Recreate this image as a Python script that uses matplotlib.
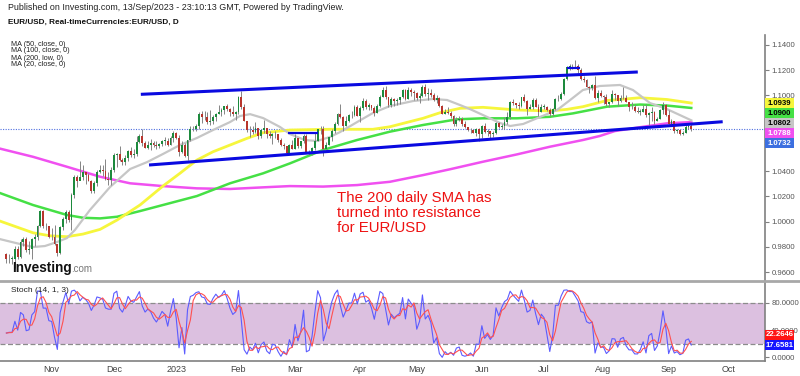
#!/usr/bin/env python3
# EUR/USD daily chart with MAs, channel drawing and stochastic panel

import numpy as np
import pandas as pd
import matplotlib
matplotlib.use('Agg')
import matplotlib.pyplot as plt
from matplotlib.lines import Line2D
from matplotlib.patches import Rectangle

plt.rcParams['font.family'] = ['Liberation Sans', 'DejaVu Sans']

# ---- daily candles, 10 Oct 2022 .. 13 Sep 2023 (open = previous close) ----
dates = pd.bdate_range('2022-10-10', '2023-09-13')
first_open = 0.9740
closes = [
    # Oct
    0.9700, 0.9705, 0.9705, 0.9780, 0.9720, 0.9840, 0.9860, 0.9775, 0.9780, 0.9860, 0.9875, 0.9965, 1.0080, 0.9965, 0.9965, 0.9880,
    # Nov
    0.9875, 0.9820, 0.9750, 0.9960, 1.0020, 1.0075, 1.0010, 1.0210, 1.0355, 1.0325, 1.0350, 1.0390, 1.0365, 1.0325, 1.0245, 1.0305, 1.0395, 1.0410, 1.0400, 1.0340, 1.0330, 1.0405,
    # Dec
    1.0525, 1.0535, 1.0490, 1.0470, 1.0505, 1.0555, 1.0530, 1.0535, 1.0630, 1.0680, 1.0625, 1.0585, 1.0605, 1.0620, 1.0605, 1.0595, 1.0615, 1.0640, 1.0640, 1.0610, 1.0660, 1.0705,
    # Jan
    1.0665, 1.0550, 1.0605, 1.0520, 1.0645, 1.0730, 1.0735, 1.0760, 1.0850, 1.0830, 1.0825, 1.0790, 1.0795, 1.0830, 1.0855, 1.0870, 1.0885, 1.0915, 1.0890, 1.0870, 1.0850, 1.0865,
    # Feb
    1.0990, 1.0910, 1.0795, 1.0725, 1.0725, 1.0710, 1.0745, 1.0680, 1.0725, 1.0740, 1.0690, 1.0675, 1.0695, 1.0690, 1.0650, 1.0605, 1.0595, 1.0545, 1.0605, 1.0575,
    # Mar
    1.0665, 1.0600, 1.0635, 1.0680, 1.0550, 1.0545, 1.0585, 1.0640, 1.0730, 1.0730, 1.0575, 1.0610, 1.0670, 1.0715, 1.0770, 1.0855, 1.0830, 1.0760, 1.0800, 1.0845, 1.0845, 1.0905, 1.0840,
    # Apr
    1.0900, 1.0955, 1.0905, 1.0920, 1.0900, 1.0860, 1.0915, 1.0990, 1.1045, 1.0990, 1.0925, 1.0970, 1.0955, 1.0965, 1.0990, 1.1045, 1.0970, 1.1040, 1.1025, 1.1020,
    # May
    1.0975, 1.0995, 1.1065, 1.1010, 1.1020, 1.1005, 1.0960, 1.0980, 1.0915, 1.0850, 1.0870, 1.0860, 1.0840, 1.0770, 1.0805, 1.0810, 1.0770, 1.0750, 1.0725, 1.0725, 1.0705, 1.0735, 1.0690,
    # Jun
    1.0760, 1.0710, 1.0715, 1.0690, 1.0700, 1.0780, 1.0750, 1.0755, 1.0790, 1.0830, 1.0945, 1.0940, 1.0925, 1.0915, 1.0985, 1.0955, 1.0895, 1.0905, 1.0960, 1.0910, 1.0865, 1.0910,
    # Jul
    1.0910, 1.0880, 1.0850, 1.0890, 1.0970, 1.0970, 1.1010, 1.1130, 1.1225, 1.1230, 1.1235, 1.1230, 1.1200, 1.1130, 1.1125, 1.1065, 1.1055, 1.1085, 1.0975, 1.1015, 1.0995,
    # Aug
    1.0985, 1.0935, 1.0945, 1.1010, 1.1000, 1.0955, 1.0975, 1.0980, 1.0950, 1.0905, 1.0905, 1.0875, 1.0870, 1.0870, 1.0895, 1.0845, 1.0860, 1.0870, 1.0795, 1.0815, 1.0880, 1.0925, 1.0845,
    # Sep
    1.0775, 1.0795, 1.0720, 1.0725, 1.0695, 1.0700, 1.0750, 1.0755, 1.0732,
]
highs = [
    0.9750, 0.9740, 0.9730, 0.9808, 0.9810, 0.9860, 0.9876, 0.9875, 0.9845, 0.9870, 0.9900, 0.9975, 1.0094, 1.0090, 0.9990, 0.9965,
    0.9950, 0.9975, 0.9820, 0.9965, 1.0035, 1.0095, 1.0095, 1.0225, 1.0365, 1.0365, 1.0480, 1.0450, 1.0395, 1.0385, 1.0330, 1.0320, 1.0405, 1.0450, 1.0450, 1.0495, 1.0395, 1.0430,
    1.0545, 1.0545, 1.0595, 1.0505, 1.0530, 1.0565, 1.0590, 1.0575, 1.0675, 1.0695, 1.0735, 1.0640, 1.0635, 1.0655, 1.0640, 1.0640, 1.0625, 1.0645, 1.0670, 1.0665, 1.0675, 1.0715,
    1.0710, 1.0685, 1.0635, 1.0625, 1.0650, 1.0760, 1.0760, 1.0775, 1.0865, 1.0875, 1.0875, 1.0865, 1.0885, 1.0845, 1.0860, 1.0925, 1.0900, 1.0915, 1.0930, 1.0900, 1.0915, 1.0875,
    1.0995, 1.1033, 1.0935, 1.0800, 1.0755, 1.0755, 1.0790, 1.0745, 1.0735, 1.0805, 1.0745, 1.0715, 1.0700, 1.0720, 1.0695, 1.0665, 1.0625, 1.0590, 1.0615, 1.0645,
    1.0690, 1.0665, 1.0640, 1.0695, 1.0695, 1.0565, 1.0590, 1.0700, 1.0735, 1.0760, 1.0760, 1.0630, 1.0670, 1.0730, 1.0790, 1.0860, 1.0930, 1.0840, 1.0835, 1.0850, 1.0875, 1.0925, 1.0925,
    1.0915, 1.0975, 1.0970, 1.0940, 1.0925, 1.0915, 1.0935, 1.1000, 1.1065, 1.1075, 1.0990, 1.0985, 1.0980, 1.0975, 1.0990, 1.1050, 1.1050, 1.1065, 1.1060, 1.1045,
    1.1025, 1.1015, 1.1080, 1.1092, 1.1055, 1.1050, 1.1020, 1.1000, 1.0985, 1.0925, 1.0895, 1.0905, 1.0875, 1.0845, 1.0830, 1.0835, 1.0825, 1.0800, 1.0750, 1.0745, 1.0735, 1.0745, 1.0740,
    1.0765, 1.0780, 1.0735, 1.0715, 1.0715, 1.0785, 1.0785, 1.0775, 1.0825, 1.0865, 1.0955, 1.0970, 1.0940, 1.0950, 1.0990, 1.1012, 1.0960, 1.0935, 1.0975, 1.0975, 1.0935, 1.0935,
    1.0935, 1.0915, 1.0900, 1.0900, 1.0975, 1.1000, 1.1030, 1.1135, 1.1230, 1.1245, 1.1250, 1.1276, 1.1245, 1.1215, 1.1150, 1.1130, 1.1070, 1.1090, 1.1150, 1.1045, 1.1045,
    1.1005, 1.1010, 1.0950, 1.1045, 1.1015, 1.1000, 1.1000, 1.1065, 1.1000, 1.0945, 1.0950, 1.0935, 1.0905, 1.0895, 1.0925, 1.0930, 1.0870, 1.0905, 1.0875, 1.0830, 1.0895, 1.0945, 1.0930,
    1.0880, 1.0810, 1.0795, 1.0735, 1.0735, 1.0720, 1.0765, 1.0770, 1.0775,
]
lows = [
    0.9670, 0.9670, 0.9665, 0.9632, 0.9705, 0.9715, 0.9810, 0.9760, 0.9745, 0.9705, 0.9810, 0.9855, 0.9960, 0.9950, 0.9930, 0.9870,
    0.9850, 0.9815, 0.9730, 0.9745, 0.9935, 0.9990, 0.9995, 0.9935, 1.0190, 1.0270, 1.0330, 1.0330, 1.0300, 1.0325, 1.0225, 1.0225, 1.0285, 1.0385, 1.0360, 1.0330, 1.0290, 1.0290,
    1.0390, 1.0430, 1.0480, 1.0445, 1.0445, 1.0480, 1.0515, 1.0505, 1.0520, 1.0620, 1.0595, 1.0580, 1.0575, 1.0570, 1.0590, 1.0575, 1.0580, 1.0600, 1.0610, 1.0600, 1.0605, 1.0630,
    1.0655, 1.0520, 1.0545, 1.0510, 1.0485, 1.0640, 1.0715, 1.0715, 1.0735, 1.0780, 1.0805, 1.0770, 1.0765, 1.0775, 1.0800, 1.0855, 1.0835, 1.0855, 1.0875, 1.0835, 1.0835, 1.0805,
    1.0855, 1.0895, 1.0795, 1.0710, 1.0670, 1.0690, 1.0700, 1.0655, 1.0665, 1.0705, 1.0660, 1.0660, 1.0615, 1.0665, 1.0630, 1.0600, 1.0575, 1.0535, 1.0535, 1.0575,
    1.0575, 1.0580, 1.0585, 1.0620, 1.0545, 1.0525, 1.0525, 1.0570, 1.0635, 1.0690, 1.0516, 1.0550, 1.0610, 1.0635, 1.0705, 1.0765, 1.0820, 1.0715, 1.0760, 1.0785, 1.0820, 1.0835, 1.0835,
    1.0790, 1.0885, 1.0895, 1.0880, 1.0880, 1.0835, 1.0860, 1.0910, 1.0990, 1.0970, 1.0910, 1.0905, 1.0915, 1.0925, 1.0935, 1.0975, 1.0965, 1.0970, 1.0995, 1.0965,
    1.0965, 1.0940, 1.0985, 1.0995, 1.0965, 1.0990, 1.0955, 1.0940, 1.0905, 1.0850, 1.0850, 1.0850, 1.0820, 1.0760, 1.0760, 1.0800, 1.0760, 1.0745, 1.0715, 1.0705, 1.0700, 1.0675, 1.0635,
    1.0665, 1.0705, 1.0675, 1.0665, 1.0670, 1.0690, 1.0740, 1.0730, 1.0735, 1.0770, 1.0815, 1.0925, 1.0900, 1.0895, 1.0905, 1.0945, 1.0845, 1.0890, 1.0890, 1.0905, 1.0835, 1.0865,
    1.0890, 1.0875, 1.0835, 1.0835, 1.0880, 1.0955, 1.0965, 1.1000, 1.1125, 1.1200, 1.1205, 1.1215, 1.1180, 1.1125, 1.1105, 1.1065, 1.1020, 1.1040, 1.0970, 1.0945, 1.0990,
    1.0935, 1.0915, 1.0910, 1.0940, 1.0965, 1.0915, 1.0945, 1.0970, 1.0945, 1.0875, 1.0895, 1.0865, 1.0860, 1.0845, 1.0870, 1.0830, 1.0765, 1.0800, 1.0770, 1.0795, 1.0810, 1.0855, 1.0835,
    1.0770, 1.0765, 1.0705, 1.0705, 1.0685, 1.0685, 1.0700, 1.0735, 1.0715,
]
# 13 sessions before the first candle, only needed for the 14-bar stochastic window
pre_highs = [0.9975, 0.9905, 0.9855, 0.9710, 0.9670, 0.9750, 0.9815, 0.9855, 0.9850, 0.9999, 0.9995, 0.9890, 0.9800]
pre_lows = [0.9810, 0.9810, 0.9670, 0.9550, 0.9570, 0.9535, 0.9635, 0.9745, 0.9750, 0.9820, 0.9835, 0.9785, 0.9725]

# ---- moving averages (bar index, price) ----
ma20_x = [-2.3, 4.8, 9.4, 13.6, 17.9, 21.4, 24.2, 29.5, 36.6, 43.7, 49.7, 55.3, 61.3, 67.3, 73.0, 79.0,
          82.5, 86.1, 90.7, 96.7, 100.2, 105.5, 109.8, 114.3, 117.9, 123.9, 129.5, 135.5, 143.7, 150.7,
          155.7, 160.3, 163.8, 168.4, 174.4, 178.0, 182.6, 188.5, 194.6, 199.2, 203.7, 209.7, 216.8,
          221.4, 227.4, 233.4, 242]
ma20_y = [0.9861, 0.9822, 0.9798, 0.9806, 0.9838, 0.9869, 0.9933, 1.0091, 1.0273, 1.0416, 1.0471, 1.0535,
          1.0606, 1.0662, 1.0725, 1.0788, 1.0836, 1.0851, 1.0820, 1.0749, 1.0693, 1.0646, 1.0638, 1.0670,
          1.0709, 1.0788, 1.0860, 1.0915, 1.0955, 1.0971, 1.0963, 1.0923, 1.0891, 1.0844, 1.0781, 1.0757,
          1.0773, 1.0828, 1.0884, 1.0963, 1.1042, 1.1074, 1.1082, 1.1042, 1.0939, 1.0891, 1.0802]
ma50_x = [-2.3, 9.4, 15.4, 21.4, 27.1, 33.1, 39.1, 47.2, 55.3, 61.3, 67.3, 73.0, 79.0, 85.0, 90.7, 100.2,
          114.3, 129.5, 135.5, 147.2, 153.2, 160.3, 168.4, 180.4, 192.1, 198.1, 203.7, 212.2, 223.9, 233.4, 242]
ma50_y = [1.0004, 0.9911, 0.9887, 0.9880, 0.9901, 0.9938, 1.0012, 1.0131, 1.0281, 1.0382, 1.0487, 1.0553,
          1.0606, 1.0659, 1.0704, 1.0725, 1.0731, 1.0731, 1.0751, 1.0818, 1.0862, 1.0897, 1.0905, 1.0884,
          1.0876, 1.0889, 1.0910, 1.0959, 1.0981, 1.0967, 1.0939]
ma100_x = [-2.3, 9.4, 21.4, 27.1, 33.1, 39.1, 47.2, 55.3, 67.3, 79.0, 90.7, 100.2, 111.9, 123.9, 135.5,
           147.2, 159.2, 168.4, 180.4, 192.1, 200.2, 212.2, 223.9, 233.4, 242]
ma100_y = [1.0226, 1.0131, 1.0052, 1.0030, 1.0025, 1.0038, 1.0083, 1.0131, 1.0202, 1.0303, 1.0382, 1.0461,
           1.0567, 1.0646, 1.0712, 1.0765, 1.0810, 1.0818, 1.0818, 1.0830, 1.0857, 1.0910, 1.0927, 1.0919, 1.0900]
ma200_x = [-2.3, 9.4, 21.4, 33.1, 43.7, 55.3, 67.3, 79.0, 90.7, 100.2, 111.9, 123.9, 135.5, 147.2, 156.7,
           168.4, 180.4, 192.1, 203.7, 209.7, 215.0, 225.0, 233.4, 242]
ma200_y = [1.0578, 1.0513, 1.0434, 1.0355, 1.0303, 1.0281, 1.0263, 1.0258, 1.0271, 1.0281, 1.0277, 1.0289,
           1.0315, 1.0368, 1.0414, 1.0474, 1.0532, 1.0593, 1.0646, 1.0678, 1.0717, 1.0751, 1.0778, 1.0788]

# ---- hand drawn lines on the chart (bar index, price) ----
channel_top_x, channel_top_y = [47.5, 223.1], [1.1008, 1.1185]
channel_bot_x, channel_bot_y = [50.4, 253.1], [1.0448, 1.0791]
mar_range_x, mar_range_y = [99.6, 110.1], [1.0705, 1.0705]
jul_range_x, jul_range_y = [198.0, 202.7], [1.1214, 1.1214]

stoch_last_k = 17.6581
stoch_last_d = 22.2646

month_labels = ['Nov', 'Dec', '2023', 'Feb', 'Mar', 'Apr', 'May', 'Jun', 'Jul', 'Aug', 'Sep', 'Oct']
price_ticks = [0.96, 0.98, 1.00, 1.02, 1.04, 1.06, 1.08, 1.10, 1.12, 1.14]
stoch_ticks = [0, 40, 80]

W, H = 800, 376
UP, DOWN = '#1d8a3d', '#b8352d'
YELLOW, GREEN, GRAY, MAGENTA = '#f6f63c', '#45e045', '#c6c6c6', '#f050f0'


def fy(y):
    return 1 - y / H


def stack_tags(ax, values, gap, upward=False):
    # keep value boxes on the price scale from overlapping
    ys = np.array([ax.transData.transform((0, v))[1] for v in values])
    order = np.argsort(values)
    if not upward:
        order = order[::-1]
    for a, b in zip(order[:-1], order[1:]):
        if upward:
            ys[b] = max(ys[b], ys[a] + gap)
        else:
            ys[b] = min(ys[b], ys[a] - gap)
    return ys


def draw_tag(fig, ydisp, text, face, fg):
    fig.add_artist(Rectangle((765 / W, (ydisp - 5) / H), 29 / W, 10 / H, transform=fig.transFigure,
                             facecolor=face, edgecolor='none', zorder=10))
    fig.text(779.5 / W, ydisp / H, text, ha='center', va='center', fontsize=5.6,
             fontweight='bold', color=fg, zorder=11)


def hide_covered_ticks(ax, ticks, tag_ys):
    # tick labels sitting right under a value box are not shown
    for t, lab in zip(ticks, ax.get_yticklabels()):
        yt = ax.transData.transform((0, t))[1]
        if min(abs(yt - y) for y in tag_ys) < 3.6:
            lab.set_visible(False)


fig = plt.figure(figsize=(W / 100, H / 100), dpi=100)
ax = fig.add_axes([0, fy(281), 765 / W, (281 - 35) / H])
st = fig.add_axes([0, fy(361), 765 / W, 80 / H])

n = len(dates)
assert len(closes) == n and len(highs) == n and len(lows) == n
x = np.arange(n)
c = np.array(closes)
o = np.r_[first_open, c[:-1]]
hi = np.array(highs)
lo = np.array(lows)

# moving averages
ax.plot(ma200_x, ma200_y, color=MAGENTA, lw=1.8, zorder=2)
ax.plot(ma100_x, ma100_y, color=GREEN, lw=1.8, zorder=2)
ax.plot(ma50_x, ma50_y, color=YELLOW, lw=2.0, zorder=2)
ax.plot(ma20_x, ma20_y, color=GRAY, lw=1.6, zorder=2)

# candles
ax.vlines(x, lo, hi, color='#858585', lw=0.7, zorder=3)
ax.bar(x, np.maximum(np.abs(c - o), 0.0003), bottom=np.minimum(o, c), width=0.66,
       color=np.where(c >= o, UP, DOWN), lw=0, zorder=4)

ax.axhline(c[-1], color='#4f6fe0', lw=0.8, ls=(0, (1, 1.3)), zorder=1)

for lx, ly, w in [(channel_top_x, channel_top_y, 2.2), (channel_bot_x, channel_bot_y, 2.2),
                  (mar_range_x, mar_range_y, 1.6), (jul_range_x, jul_range_y, 1.6)]:
    ax.plot(lx, ly, color='#0a0ae0', lw=w, zorder=6, solid_capstyle='butt')

ax.set_xlim(-2.26, 268.05)
ax.set_ylim(0.9529, 1.1478)
ax.yaxis.tick_right()
ax.set_yticks(price_ticks)
ax.set_yticklabels(['%.4f' % t for t in price_ticks])
ax.tick_params(axis='y', length=3, width=0.8, color='#808080', labelcolor='#555555', labelsize=5.6, pad=1.5)
ax.set_xticks([])
for s in ['top', 'left', 'bottom']:
    ax.spines[s].set_visible(False)
ax.spines['right'].set_color('#808080')
ax.spines['right'].set_linewidth(1.2)

# stochastic (14, 1, 3)
hh = pd.Series(pre_highs + highs).rolling(14).max().to_numpy()[13:]
ll = pd.Series(pre_lows + lows).rolling(14).min().to_numpy()[13:]
k = 100 * (c - ll) / (hh - ll)
d = pd.Series(k).rolling(3, min_periods=1).mean().to_numpy()

st.axhspan(20, 80, color='#dcc0e0', lw=0, zorder=0)
for lvl in (20, 80):
    st.axhline(lvl, color='#8c8c8c', lw=0.9, ls=(0, (4, 2)), zorder=1)
st.plot(x, k, color='#5c5cff', lw=0.8, zorder=3)
st.plot(x, d, color='#ff5050', lw=0.8, zorder=4)

st.set_xlim(-2.26, 268.05)
st.set_ylim(-5.4, 111.8)
st.yaxis.tick_right()
st.set_yticks(stoch_ticks)
st.set_yticklabels(['%.4f' % t for t in stoch_ticks])
st.tick_params(axis='y', length=3, width=0.8, color='#808080', labelcolor='#555555', labelsize=5.6, pad=1.5)

all_days = pd.bdate_range('2022-10-10', '2023-10-31')
month_pos = [all_days.searchsorted(m) for m in pd.date_range('2022-11-01', '2023-10-01', freq='MS')]
st.set_xticks(month_pos)
st.set_xticklabels(month_labels)
st.tick_params(axis='x', length=0, labelsize=6.5, labelcolor='#444444', pad=3)
for s in ['top', 'left']:
    st.spines[s].set_visible(False)
for s in ['bottom', 'right']:
    st.spines[s].set_color('#808080')
    st.spines[s].set_linewidth(1.2)

fig.add_artist(Line2D([0, 1], [fy(281), fy(281)], transform=fig.transFigure, color='#a8a8a8', lw=2))

# value tags on the right scale
tags = [(ma50_y[-1], YELLOW, 'black'), (ma100_y[-1], GREEN, 'black'), (ma20_y[-1], GRAY, 'black'),
        (ma200_y[-1], MAGENTA, 'white'), (c[-1], '#3c6fe0', 'white')]
ys = stack_tags(ax, [t[0] for t in tags], 10)
for (v, fc, fg), yd in zip(tags, ys):
    draw_tag(fig, yd, '%.4f' % v, fc, fg)
hide_covered_ticks(ax, price_ticks, ys)

stags = [(stoch_last_d, '#ff1414', 'white'), (stoch_last_k, '#1414ff', 'white')]
ys = stack_tags(st, [t[0] for t in stags], 10.5, upward=True)
for (v, fc, fg), yd in zip(stags, ys):
    draw_tag(fig, yd, '%.4f' % v, fc, fg)

# header and legend texts
fig.text(8 / W, fy(8), 'Published on Investing.com, 13/Sep/2023 - 23:10:13 GMT, Powered by TradingView.',
         fontsize=6.4, va='center', color='#222222')
fig.text(8 / W, fy(22), 'EUR/USD, Real-timeCurrencies:EUR/USD, D', fontsize=5.9, fontweight='bold',
         va='center', color='#111111')
for i, lab in enumerate(['MA (50, close, 0)', 'MA (100, close, 0)', 'MA (200, low, 0)', 'MA (20, close, 0)']):
    fig.text(11 / W, fy(44 + 7 * i), lab, fontsize=5.2, va='center', color='#222222')
fig.text(11 / W, fy(290), 'Stoch (14, 1, 3)', fontsize=6, va='center', color='#222222')

fig.text(337 / W, fy(191), 'The 200 daily SMA has\nturned into resistance\nfor EUR/USD', fontsize=10.8,
         color='#ee1111', va='top', ha='left', linespacing=1.1)

logo = fig.text(12 / W, fy(268), 'Investing', fontsize=9.8, fontweight='bold', va='center', color='#111111')
fig.canvas.draw()
bb = logo.get_window_extent()
fig.text(bb.x1 / W, fy(269), '.com', fontsize=7, va='center', color='#777777')

fig.savefig('out.png', dpi=100, facecolor='white')
